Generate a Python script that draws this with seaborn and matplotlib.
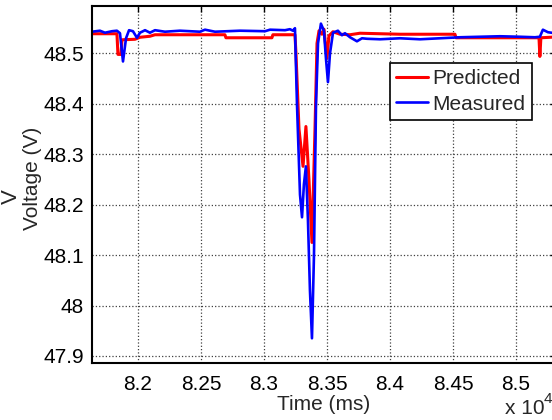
import numpy as np
import pandas as pd
import matplotlib
matplotlib.use('Agg')
import matplotlib.pyplot as plt
import seaborn as sns

# time in ms, voltage in V
t_meas = [81635, 81698, 81738, 81794, 81833, 81857, 81881, 81905, 81929, 81960,
          81992, 82016, 82056, 82095, 82135, 82214, 82333, 82492, 82532, 82611,
          82810, 83008, 83048, 83167, 83206, 83230, 83246, 83262, 83286, 83302,
          83317, 83333, 83349, 83365, 83381, 83397, 83413, 83429, 83452, 83476,
          83492, 83508, 83524, 83548, 83587, 83619, 83643, 83683, 83738, 83778,
          83818, 83921, 84080, 84238, 84397, 84556, 84714, 84873, 85032, 85151,
          85190, 85214, 85254, 85310, 85349]
v_meas = [48.543, 48.545, 48.541, 48.544, 48.545, 48.540, 48.484, 48.530, 48.546, 48.544,
          48.531, 48.541, 48.546, 48.541, 48.546, 48.543, 48.545, 48.543, 48.547, 48.543,
          48.545, 48.544, 48.547, 48.546, 48.548, 48.545, 48.550, 48.400, 48.220, 48.175,
          48.240, 48.276, 48.170, 48.030, 47.935, 48.100, 48.400, 48.520, 48.559, 48.545,
          48.490, 48.443, 48.500, 48.541, 48.545, 48.536, 48.540, 48.532, 48.524, 48.530,
          48.529, 48.528, 48.530, 48.528, 48.530, 48.532, 48.533, 48.534, 48.533, 48.532,
          48.533, 48.547, 48.542, 48.540, 48.541]

t_pred = [81635, 81833, 81841, 81865, 81873, 81976, 82016, 82095, 82135, 82690,
          82698, 83063, 83071, 83246, 83254, 83278, 83310, 83333, 83357, 83381,
          83405, 83421, 83437, 83460, 83476, 83500, 83516, 83548, 83603, 83683,
          83762, 84080, 84516, 84524, 85183, 85190, 85198, 85349]
v_pred = [48.539, 48.539, 48.498, 48.498, 48.527, 48.528, 48.532, 48.534, 48.537, 48.537,
          48.531, 48.531, 48.537, 48.537, 48.500, 48.350, 48.276, 48.355, 48.250, 48.125,
          48.350, 48.520, 48.545, 48.538, 48.548, 48.490, 48.535, 48.543, 48.538, 48.537,
          48.540, 48.538, 48.538, 48.531, 48.531, 48.494, 48.531, 48.533]

x_ticks = [82000, 82500, 83000, 83500, 84000, 84500, 85000]
x_labels = ['8.2', '8.25', '8.3', '8.35', '8.4', '8.45', '8.5']
y_ticks = [47.9, 48.0, 48.1, 48.2, 48.3, 48.4, 48.5]
y_labels = ['47.9', '48', '48.1', '48.2', '48.3', '48.4', '48.5']

sns.set_style('white')
plt.rcParams['font.family'] = ['Liberation Sans', 'DejaVu Sans']
plt.rcParams['font.size'] = 15

W, H = 552, 420
fig = plt.figure(figsize=(W / 100, H / 100), dpi=100)
ax = fig.add_axes([92 / W, 57 / H, (556 - 92) / W, (363 - 6) / H])

pred = pd.DataFrame({'t': t_pred, 'v': v_pred})
meas = pd.DataFrame({'t': t_meas, 'v': v_meas})
sns.lineplot(data=pred, x='t', y='v', color='#ff0000', linewidth=2.2,
             label='Predicted', estimator=None, sort=False, ax=ax)
sns.lineplot(data=meas, x='t', y='v', color='#0000ff', linewidth=1.9,
             label='Measured', estimator=None, sort=False, ax=ax)

ax.set_xlim(81635, 85318)
ax.set_ylim(47.886, 48.594)
ax.set_xticks(x_ticks, x_labels)
ax.set_yticks(y_ticks, y_labels)
ax.tick_params(direction='in', length=4, width=1, top=True, right=True,
               labelsize=15, colors='black', pad=6)
ax.tick_params(axis='x', pad=9)
ax.grid(True, linestyle=':', color='0.25', linewidth=0.9)
for s in ax.spines.values():
    s.set_color('black')
    s.set_linewidth(1.5)

ax.set_xlabel('Time (ms)', fontsize=15, labelpad=0)
ax.set_ylabel('Voltage (V)', fontsize=15)
ax.yaxis.set_label_coords((42 - 92) / 464, (363 - 178) / 357)

fig.text(505 / W, 2 / H, 'x 10', fontsize=15, ha='left', va='bottom')
fig.text(544 / W, 14 / H, '4', fontsize=11, ha='left', va='bottom')
fig.text(0.5 / W, 1 - 197 / H, 'V', fontsize=16, rotation=90, ha='left', va='center')

leg = ax.legend(loc='upper left', bbox_to_anchor=(390 / W, 1 - 63 / H),
                bbox_transform=fig.transFigure, fontsize=15, frameon=True,
                fancybox=False, edgecolor='black', framealpha=1,
                borderpad=0.3, handlelength=1.5, handletextpad=0.25,
                labelspacing=0.3, borderaxespad=0)
leg.get_frame().set_linewidth(1.2)

fig.savefig('out.png', dpi=100)
